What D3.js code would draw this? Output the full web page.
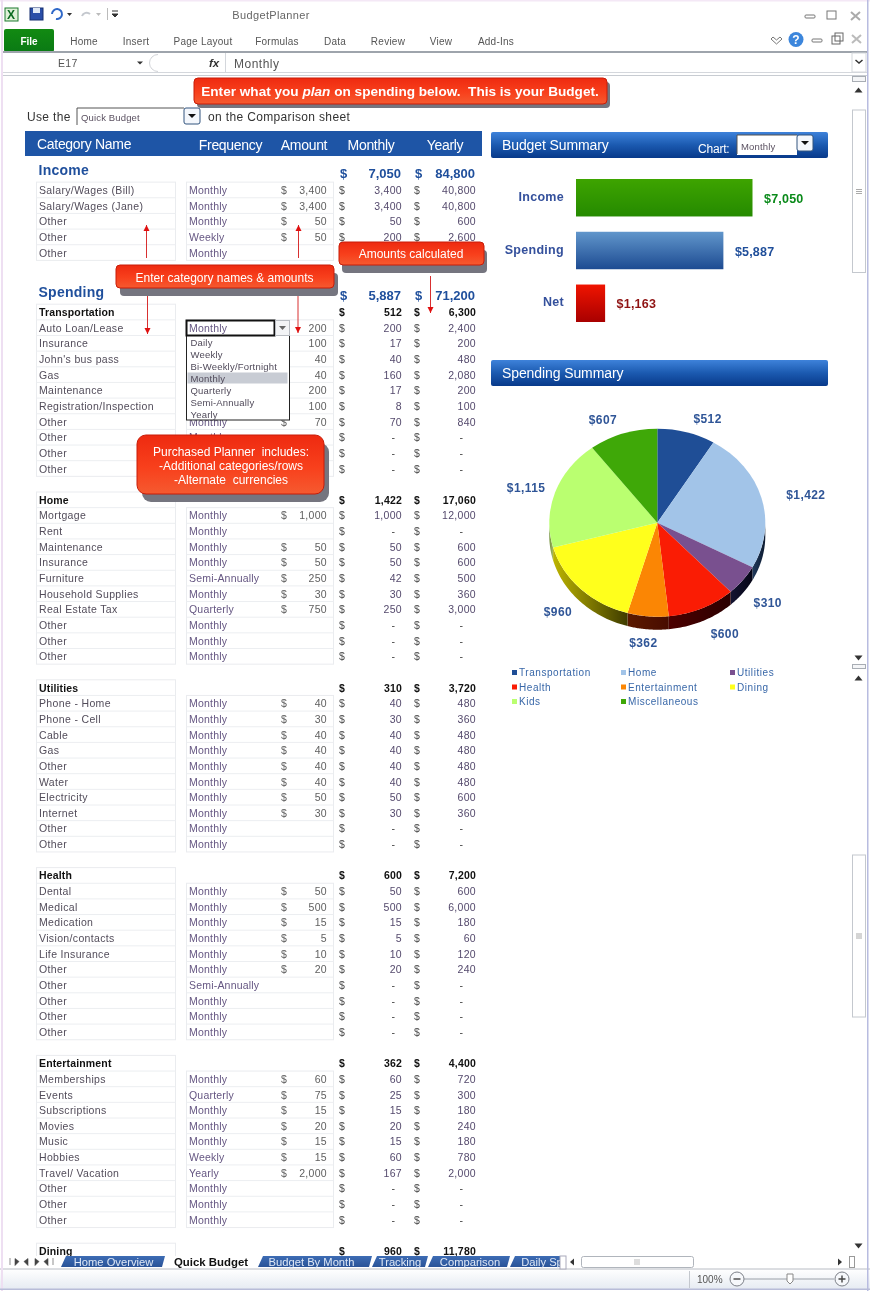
<!DOCTYPE html>
<html><head><meta charset="utf-8">
<script src="https://cdn.jsdelivr.net/npm/d3@7"></script>
<style>
html,body{margin:0;padding:0;background:#fff;overflow:hidden}
svg{display:block;filter:blur(0.35px)}
text{font-family:"Liberation Sans",Arial,sans-serif}
</style></head><body>
<div id="c"></div>
<script>
// ---------- data ----------
const pieCategories = ["Transportation","Home","Utilities","Health","Entertainment","Dining","Kids","Miscellaneous"];
const pieValues = [512,1422,310,600,362,960,1115,607];
const summaryLabels = ["Income","Spending","Net"];
const summaryValues = [7050,5887,1163];
const columnHeads = ["Frequency","Amount","Monthly","Yearly"];
const ribbonTabs = ["Home","Insert","Page Layout","Formulas","Data","Review","View","Add-Ins"];
const sheetTabs = ["Home  Overview","Quick Budget","Budget By Month","Tracking","Comparison","Daily Sp"];
const dropdownItems = ["Daily","Weekly","Bi-Weekly/Fortnight","Monthly","Quarterly","Semi-Annually","Yearly"];

const incomeTotals = [7050,84800];
const spendingTotals = [5887,71200];
const incomeRows = [
 ["Salary/Wages (Bill)","Monthly",3400,3400,40800],
 ["Salary/Wages (Jane)","Monthly",3400,3400,40800],
 ["Other","Monthly",50,50,600],
 ["Other","Weekly",50,200,2600],
 ["Other","Monthly",null,null,null]];
// "" = frequency cell hidden in the picture by the open dropdown or the callout
const transportationRows = [
 ["Auto Loan/Lease","",200,200,2400],
 ["Insurance","",100,17,200],
 ["John's bus pass","",40,40,480],
 ["Gas","",40,160,2080],
 ["Maintenance","",200,17,200],
 ["Registration/Inspection","",100,8,100],
 ["Other","Monthly",70,70,840],
 ["Other","Monthly",null,null,null],
 ["Other","",null,null,null],
 ["Other","",null,null,null]];
const homeRows = [
 ["Mortgage","Monthly",1000,1000,12000],
 ["Rent","Monthly",null,null,null],
 ["Maintenance","Monthly",50,50,600],
 ["Insurance","Monthly",50,50,600],
 ["Furniture","Semi-Annually",250,42,500],
 ["Household Supplies","Monthly",30,30,360],
 ["Real Estate Tax","Quarterly",750,250,3000],
 ["Other","Monthly",null,null,null],
 ["Other","Monthly",null,null,null],
 ["Other","Monthly",null,null,null]];
const utilitiesRows = [
 ["Phone - Home","Monthly",40,40,480],
 ["Phone - Cell","Monthly",30,30,360],
 ["Cable","Monthly",40,40,480],
 ["Gas","Monthly",40,40,480],
 ["Other","Monthly",40,40,480],
 ["Water","Monthly",40,40,480],
 ["Electricity","Monthly",50,50,600],
 ["Internet","Monthly",30,30,360],
 ["Other","Monthly",null,null,null],
 ["Other","Monthly",null,null,null]];
const healthRows = [
 ["Dental","Monthly",50,50,600],
 ["Medical","Monthly",500,500,6000],
 ["Medication","Monthly",15,15,180],
 ["Vision/contacts","Monthly",5,5,60],
 ["Life Insurance","Monthly",10,10,120],
 ["Other","Monthly",20,20,240],
 ["Other","Semi-Annually",null,null,null],
 ["Other","Monthly",null,null,null],
 ["Other","Monthly",null,null,null],
 ["Other","Monthly",null,null,null]];
const entertainmentRows = [
 ["Memberships","Monthly",60,60,720],
 ["Events","Quarterly",75,25,300],
 ["Subscriptions","Monthly",15,15,180],
 ["Movies","Monthly",20,20,240],
 ["Music","Monthly",15,15,180],
 ["Hobbies","Weekly",15,60,780],
 ["Travel/ Vacation","Yearly",2000,167,2000],
 ["Other","Monthly",null,null,null],
 ["Other","Monthly",null,null,null],
 ["Other","Monthly",null,null,null]];
const diningRows = [];
const sectionNames = ["Transportation","Home","Utilities","Health","Entertainment","Dining"];
const sectionMonthly = [512,1422,310,600,362,960];
const sectionYearly = [6300,17060,3720,7200,4400,11780];
const sectionRows = [transportationRows,homeRows,utilitiesRows,healthRows,entertainmentRows,diningRows];

// ---------- layout ----------
const W=870,H=1291;
const svg=d3.select("#c").append("svg").attr("width",W).attr("height",H).attr("viewBox",`0 0 ${W} ${H}`);
const defs=svg.append("defs");
function grad(id,stops,horizontal){
  const g=defs.append("linearGradient").attr("id",id).attr("x1",0).attr("y1",0)
    .attr("x2",horizontal?1:0).attr("y2",horizontal?0:1);
  stops.forEach(([o,c])=>g.append("stop").attr("offset",o).attr("stop-color",c));
}
grad("redCall",[[0,"#ee2a10"],[.55,"#f8401c"],[1,"#f55a30"]]);
grad("panel",[[0,"#3e82da"],[.5,"#1b5ab0"],[1,"#08398a"]]);
grad("fileTab",[[0,"#128a12"],[1,"#0a7a14"]]);
grad("barInc",[[0,"#3ea400"],[1,"#258a00"]]);
grad("barSpend",[[0,"#6196cb"],[1,"#1d4b92"]]);
grad("barNet",[[0,"#f01400"],[1,"#a80000"]]);
grad("status",[[0,"#ffffff"],[1,"#e6ebf2"]]);
grad("tabBlue",[[0,"#3d6cb4"],[1,"#2a5398"]]);
defs.append("clipPath").attr("id","sheet").append("rect").attr("x",0).attr("y",76).attr("width",850).attr("height",1180);

const txt=(g,x,y,s,o={})=>g.append("text").attr("x",x).attr("y",y).text(s)
  .attr("font-size",o.size||11).attr("fill",o.fill||"#444")
  .attr("font-weight",o.bold?"bold":null).attr("font-style",o.italic?"italic":null)
  .attr("text-anchor",o.anchor||"start").style("letter-spacing",o.ls==null?null:o.ls+"px");

svg.append("rect").attr("width",W).attr("height",H).attr("fill","#fff");

// ---------- sheet ----------
const sheet=svg.append("g").attr("clip-path","url(#sheet)");
const rowY=d3.scaleLinear().domain([0,1]).range([312,327.65]);
const fmt=d3.format(",");
const cols={name:39,freq:189,amtD:281,amt:327,monD:339,mon:402,yrD:414,yr:476,catL:36.5,catR:175.5,frL:186.5,frR:333.5};
const nameFill="#524c5a";
function drawBox(x0,x1,a,b){
  sheet.append("rect").attr("x",x0).attr("y",rowY(a)-7.8).attr("width",x1-x0).attr("height",rowY(b)-rowY(a))
    .attr("fill","none").attr("stroke","#eaecef");
  d3.range(a+1,b).forEach(i=>sheet.append("line").attr("x1",x0).attr("x2",x1)
    .attr("y1",rowY(i)-7.8).attr("y2",rowY(i)-7.8).attr("stroke","#eceef1"));
}
function drawRows(rows,start){
  rows.forEach((r,k)=>{
    const y=rowY(start+k)+4;
    txt(sheet,cols.name,y,r[0],{size:10.5,fill:nameFill,ls:.35});
    if(r[1]) txt(sheet,cols.freq,y,r[1],{size:10.5,fill:"#655682",ls:.2});
    if(r[2]!=null){
      if(r[1]) txt(sheet,cols.amtD,y,"$",{size:10.5,fill:"#606060"});
      txt(sheet,cols.amt,y,fmt(r[2]),{size:10.5,fill:"#606060",anchor:"end",ls:.3});
    }
    txt(sheet,cols.monD,y,"$",{size:10.5,fill:"#4c4c4c"});
    txt(sheet,cols.yrD,y,"$",{size:10.5,fill:"#4c4c4c"});
    if(r[3]!=null){
      txt(sheet,cols.mon,y,fmt(r[3]),{size:10.5,fill:"#54496c",anchor:"end",ls:.3});
      txt(sheet,cols.yr,y,fmt(r[4]),{size:10.5,fill:"#54496c",anchor:"end",ls:.3});
    }else{
      txt(sheet,cols.mon-7,y,"-",{size:10.5,fill:"#444",anchor:"end"});
      txt(sheet,cols.yr-13,y,"-",{size:10.5,fill:"#444",anchor:"end"});
    }
  });
}
// income
const incomeStart=-7.8;
drawBox(cols.catL,cols.catR,incomeStart,incomeStart+incomeRows.length);
drawBox(cols.frL,cols.frR,incomeStart,incomeStart+incomeRows.length);
drawRows(incomeRows,incomeStart);
function heading(name,totals,startY){
  txt(sheet,38.5,startY,name,{size:14,bold:true,fill:"#1f4f9c",ls:.25});
  const y=startY+3;
  txt(sheet,cols.monD+1,y,"$",{size:13,bold:true,fill:"#1f4f9c"});
  txt(sheet,cols.yrD+1,y,"$",{size:13,bold:true,fill:"#1f4f9c"});
  txt(sheet,cols.mon-1,y,fmt(totals[0]),{size:13,bold:true,fill:"#1f4f9c",anchor:"end"});
  txt(sheet,cols.yr-1,y,fmt(totals[1]),{size:13,bold:true,fill:"#1f4f9c",anchor:"end"});
}
heading("Income",incomeTotals,174.5);
heading("Spending",spendingTotals,297);
// sections
sectionNames.forEach((n,i)=>{
  const s=i*12, rows=sectionRows[i], y=rowY(s)+4;
  drawBox(cols.catL,cols.catR,s,s+1+rows.length);
  if(rows.length) drawBox(cols.frL,cols.frR,s+1,s+1+rows.length);
  txt(sheet,cols.name,y,n,{size:10.5,bold:true,fill:"#111",ls:.15});
  txt(sheet,cols.monD,y,"$",{size:10.5,bold:true,fill:"#111"});
  txt(sheet,cols.yrD,y,"$",{size:10.5,bold:true,fill:"#111"});
  txt(sheet,cols.mon,y,fmt(sectionMonthly[i]),{size:10.5,bold:true,fill:"#111",anchor:"end",ls:.2});
  txt(sheet,cols.yr,y,fmt(sectionYearly[i]),{size:10.5,bold:true,fill:"#111",anchor:"end",ls:.2});
  drawRows(rows,s+1);
});

// header bar
svg.append("rect").attr("x",25).attr("y",131).attr("width",457).attr("height",25).attr("fill","#1e55a6");
txt(svg,37,148.5,"Category Name",{size:14,fill:"#fff",ls:-.3});
[230.5,304,371,445].forEach((x,i)=>txt(svg,x,149.5,columnHeads[i],{size:14,fill:"#fff",anchor:"middle",ls:-.3}));

// use the ... row
txt(svg,27,121,"Use the",{size:12,fill:"#333",ls:.35});
txt(svg,208,121,"on the Comparison sheet",{size:12,fill:"#333",ls:.35});
function combo(x,y,w,h,label){
  svg.append("path").attr("d",`M${x},${y+h}V${y}H${x+w}`).attr("fill","none").attr("stroke","#555");
  txt(svg,x+4,y+h-4,label,{size:9.5,fill:"#5a5060",ls:.15});
  svg.append("rect").attr("x",x+w).attr("y",y).attr("width",16).attr("height",16).attr("rx",2)
    .attr("fill","#f4f7fc").attr("stroke","#33557f");
  svg.append("path").attr("d",`M${x+w+4},${y+6}h8l-4,4z`).attr("fill","#111");
}
combo(77,108,107,17,"Quick Budget");

// ---------- right panels ----------
function panel(y,label){
  svg.append("rect").attr("x",491).attr("y",y).attr("width",337).attr("height",26).attr("rx",2).attr("fill","url(#panel)");
  txt(svg,502,y+18,label,{size:14,fill:"#fff",ls:-.1});
}
panel(132,"Budget Summary");
panel(360,"Spending Summary");
txt(svg,698,153,"Chart:",{size:12,fill:"#fff",ls:-.2});
svg.append("rect").attr("x",737).attr("y",135).attr("width",60).attr("height",20).attr("fill","#fff");
combo(737,135,60,19,"Monthly");

// bars
const barX=d3.scaleLinear().domain([0,7050]).range([576,752.5]);
const barY=d3.scaleBand().domain(summaryLabels).range([179,322]).paddingInner(.29);
const barFill=["url(#barInc)","url(#barSpend)","url(#barNet)"];
const barText=["#0a8a1a","#1f4e9a","#8f1212"];
svg.selectAll(".b").data(summaryValues).join("rect").attr("class","b")
  .attr("x",barX(0)).attr("y",(d,i)=>barY(summaryLabels[i]))
  .attr("width",d=>barX(d)-barX(0)).attr("height",barY.bandwidth()).attr("fill",(d,i)=>barFill[i]);
summaryLabels.forEach((l,i)=>{
  const cy=barY(l)+barY.bandwidth()/2;
  txt(svg,564,cy+3,l,{size:12.5,bold:true,fill:"#34509c",anchor:"end",ls:.3});
  txt(svg,barX(summaryValues[i])+11.5,cy+5,"$"+fmt(summaryValues[i]),{size:12.5,bold:true,fill:barText[i],ls:.2});
});

// ---------- pie ----------
const pc={x:657.3,y:522.7,rx:108,ry:94,depth:13};
const pieColors=["#1f4e96","#a2c4e8","#79508f","#fa1c04","#fb8604","#ffff1c","#baff70","#3fa808"];
const wallLight=["#1f4e96","#203a5c","#141432","#4c0000","#5c1a00","#bdb400","#70903a","#3fa808"];
const wallDark=["#1f4e96","#0c1a30","#050516","#2c0000","#480c00","#3f3c00","#a6b864","#3fa808"];
pieColors.forEach((c,i)=>grad("wall"+i,[[0,wallLight[i]],[1,wallDark[i]]],true));
const arcs=d3.pie().sort(null).startAngle(0).endAngle(2*Math.PI)(pieValues);
const px=a=>pc.x+pc.rx*Math.sin(a), py=a=>pc.y-pc.ry*Math.cos(a);
const wallGroup=svg.append("g");
arcs.forEach((a,i)=>{
  const s=Math.max(a.startAngle,Math.PI/2), e=Math.min(a.endAngle,3*Math.PI/2);
  if(e<=s) return;
  const angles=d3.range(0,41).map(k=>s+(e-s)*k/40);
  const line=d3.line().x(d=>d[0]).y(d=>d[1]);
  const pts=[...angles.map(t=>[px(t),py(t)]),...angles.slice().reverse().map(t=>[px(t),py(t)+pc.depth])];
  wallGroup.append("path").attr("d",line(pts)+"Z").attr("fill",`url(#wall${i})`);
});
const arcGen=d3.arc().innerRadius(0).outerRadius(pc.rx);
svg.append("g").attr("transform",`translate(${pc.x},${pc.y}) scale(1,${pc.ry/pc.rx})`)
  .selectAll("path").data(arcs).join("path").attr("d",arcGen).attr("fill",(d,i)=>pieColors[i]);
const labelNudgeX=[16,26,10,15,-3,-9,-11,-14], labelNudgeY=[3,1,12,10,10,11,1,3];
arcs.forEach((a,i)=>{
  const m=(a.startAngle+a.endAngle)/2;
  txt(svg,pc.x+127*Math.sin(m)+labelNudgeX[i],pc.y-111*Math.cos(m)+labelNudgeY[i]+4,"$"+fmt(pieValues[i]),
    {size:12,bold:true,fill:"#2f5597",anchor:"middle",ls:.4});
});
// legend
const legX=d3.scalePoint().domain([0,1,2]).range([512,730]);
const legY=d3.scaleLinear().domain([0,1]).range([672.5,687]);
pieCategories.forEach((n,i)=>{
  const x=legX(i%3), y=legY(Math.floor(i/3));
  svg.append("rect").attr("x",x).attr("y",y-2.5).attr("width",5).attr("height",5).attr("fill",pieColors[i]);
  txt(svg,x+7,y+3.5,n,{size:10,fill:"#3867a8",ls:.55});
});

// ---------- callouts ----------
function callout(x,y,w,h,sx,sy,r){
  svg.append("rect").attr("x",x+sx).attr("y",y+sy).attr("width",w).attr("height",h).attr("rx",r).attr("fill","#75757f");
  svg.append("rect").attr("x",x).attr("y",y).attr("width",w).attr("height",h).attr("rx",r)
    .attr("fill","url(#redCall)").attr("stroke","#c81c08");
}
// arrows
function arrow(x,y0,y1){
  const dir=y1>y0?1:-1;
  svg.append("line").attr("x1",x).attr("x2",x).attr("y1",y0).attr("y2",y1).attr("stroke","#d83030").attr("stroke-width",1);
  svg.append("path").attr("d",`M${x-3},${y1-dir*6}h6L${x},${y1}z`).attr("fill","#e01010");
}
arrow(146.5,258,225); arrow(298.5,258,225);
arrow(147.5,292,334); arrow(298,292,333);
arrow(430.5,276,313);
callout(194,78,413,26,3,4,4);
const big=svg.append("text").attr("x",400).attr("y",95.5).attr("text-anchor","middle").attr("font-size",13.6).attr("font-weight","bold").attr("fill","#fff").style("white-space","pre");
big.append("tspan").text("Enter what you ");
big.append("tspan").attr("font-style","italic").text("plan");
big.append("tspan").text(" on spending below.  This is your Budget.");
callout(339,242,145,23,3,8,4);
txt(svg,411,258,"Amounts calculated",{size:12,fill:"#fff",anchor:"middle"});
callout(116,265,218,23,4,8,4);
txt(svg,224.5,281.5,"Enter category names & amounts",{size:12,fill:"#fff",anchor:"middle"});

// dropdown
svg.append("rect").attr("x",186.5).attr("y",335).attr("width",103).attr("height",85).attr("fill","#fff").attr("stroke","#222");
const ddY=d3.scaleLinear().domain([0,1]).range([342,354]);
svg.append("rect").attr("x",187.5).attr("y",ddY(3)-5.5).attr("width",100).attr("height",11).attr("fill","#c8ccd4");
dropdownItems.forEach((t,i)=>txt(svg,190.5,ddY(i)+3.5,t,{size:9.5,fill:"#504a5a",ls:.2}));
svg.append("rect").attr("x",186.5).attr("y",320.5).attr("width",88).attr("height",15).attr("fill","#fff").attr("stroke","#111").attr("stroke-width",2);
txt(svg,189,332,"Monthly",{size:10.5,fill:"#655682",ls:.2});
svg.append("rect").attr("x",275.5).attr("y",320.5).attr("width",14).attr("height",15).attr("fill","#f3f4f6").attr("stroke","#b8bcc2");
svg.append("path").attr("d","M279,326h7l-3.5,4z").attr("fill","#666");

callout(137,435,187,59,5,8,9);
["Purchased Planner  includes:","-Additional categories/rows","-Alternate  currencies"].forEach((t,i)=>
  txt(svg,231,456+i*13.8,t,{size:12,fill:"#fff",anchor:"middle"}).style("white-space","pre"));

// ---------- ribbon chrome ----------
const ribbon=svg.append("g");
ribbon.append("rect").attr("width",W).attr("height",76).attr("fill","#fff");
ribbon.append("rect").attr("width",W).attr("height",1.5).attr("fill","#f4e8f6");
txt(ribbon,271,19,"BudgetPlanner",{size:11,fill:"#666",anchor:"middle",ls:.35});
// quick access icons
ribbon.append("rect").attr("x",5).attr("y",8).attr("width",13).attr("height",13).attr("fill","#dff0d8").attr("stroke","#1d7a2e");
txt(ribbon,7,19,"X",{size:12,bold:true,fill:"#0a6a20"});
ribbon.append("rect").attr("x",30).attr("y",8).attr("width",13).attr("height",12).attr("fill","#2a4ea8").attr("stroke","#162e70");
ribbon.append("rect").attr("x",33).attr("y",8).attr("width",7).attr("height",5).attr("fill","#dfe8f6");
ribbon.append("path").attr("d","M52,14a5,5 0 1 1 4,5").attr("fill","none").attr("stroke","#2f68c8").attr("stroke-width",2);
ribbon.append("path").attr("d","M67,13h5l-2.5,3z").attr("fill","#333");
ribbon.append("path").attr("d","M90,14a5,5 0 0 0 -8,2").attr("fill","none").attr("stroke","#c4c8ce").attr("stroke-width",2);
ribbon.append("path").attr("d","M96,13h5l-2.5,3z").attr("fill","#bbb");
ribbon.append("line").attr("x1",107.5).attr("x2",107.5).attr("y1",8).attr("y2",20).attr("stroke","#bbb");
ribbon.append("path").attr("d","M112,11h6M112,14h6l-3,3z").attr("stroke","#333").attr("fill","#333");
// window buttons
ribbon.append("rect").attr("x",805).attr("y",15).attr("width",10).attr("height",3).attr("rx",1).attr("fill","#fff").attr("stroke","#777");
ribbon.append("rect").attr("x",827).attr("y",11).attr("width",9).attr("height",8).attr("fill","#fff").attr("stroke","#777");
ribbon.append("path").attr("d","M851,12l9,8M860,12l-9,8").attr("stroke","#aaa").attr("stroke-width",2);
// tabs
ribbon.append("rect").attr("x",4).attr("y",29).attr("width",50).attr("height",23).attr("rx",2).attr("fill","url(#fileTab)");
txt(ribbon,29,45,"File",{size:10,bold:true,fill:"#fff",anchor:"middle"});
[84,136,203,277,335,388,441,496].forEach((x,i)=>txt(ribbon,x,44.5,ribbonTabs[i],{size:10,fill:"#555",anchor:"middle",ls:.25}));
ribbon.append("path").attr("d","M773,37l3.5,3 3.5,-3 2,2 -5.5,5 -5.5,-5z").attr("fill","#fff").attr("stroke","#777");
ribbon.append("circle").attr("cx",796).attr("cy",39.5).attr("r",7.5).attr("fill","#3c86dc");
txt(ribbon,796,44,"?",{size:12,bold:true,fill:"#fff",anchor:"middle"});
ribbon.append("rect").attr("x",812).attr("y",39).attr("width",10).attr("height",3).attr("rx",1).attr("fill","#fff").attr("stroke","#777");
ribbon.append("rect").attr("x",832).attr("y",36).attr("width",8).attr("height",8).attr("fill","#fff").attr("stroke","#666");
ribbon.append("rect").attr("x",835).attr("y",33).attr("width",8).attr("height",8).attr("fill","none").attr("stroke","#666");
ribbon.append("path").attr("d","M852,35l9,8M861,35l-9,8").attr("stroke","#bbb").attr("stroke-width",2);
// formula bar
ribbon.append("rect").attr("x",3).attr("y",51).attr("width",864).attr("height",2).attr("fill","#9ea4ac");
ribbon.append("rect").attr("x",3).attr("y",72).attr("width",864).attr("height",1).attr("fill","#d4d7dc");
ribbon.append("rect").attr("x",3).attr("y",75).attr("width",864).attr("height",1).attr("fill","#c8ccd2");
txt(ribbon,58,67,"E17",{size:10.5,fill:"#555",ls:.3});
ribbon.append("path").attr("d","M137,61.5h6l-3,3z").attr("fill","#333");
ribbon.append("circle").attr("cx",158).attr("cy",63).attr("r",8.5).attr("fill","#fff").attr("stroke","#d2d4d8");
ribbon.append("rect").attr("x",158).attr("y",54).attr("width",20).attr("height",18).attr("fill","#fff");
txt(ribbon,214,67,"fx",{size:11.5,bold:true,italic:true,fill:"#333",anchor:"middle"});
ribbon.append("line").attr("x1",225.5).attr("x2",225.5).attr("y1",53).attr("y2",72).attr("stroke","#d4d7dc");
txt(ribbon,234,67.5,"Monthly",{size:12,fill:"#555",ls:.5});
ribbon.append("rect").attr("x",852).attr("y",53).attr("width",14).attr("height",19).attr("fill","#fff").attr("stroke","#d4d7dc");
ribbon.append("path").attr("d","M855.5,60l3.5,3 3.5,-3").attr("fill","none").attr("stroke","#333").attr("stroke-width",1.5);

// ---------- vertical scrollbars ----------
const vs=svg.append("g");
vs.append("rect").attr("x",851).attr("y",76).attr("width",16).attr("height",1180).attr("fill","#fff");
vs.append("rect").attr("x",852.5).attr("y",76.5).attr("width",13).attr("height",5).attr("fill","#f4f5f7").attr("stroke","#a8adb4");
const tri=(x,y,up,c="#333")=>vs.append("path").attr("d",up?`M${x-4},${y+2.5}h8l-4,-5z`:`M${x-4},${y-2.5}h8l-4,5z`).attr("fill",c);
tri(858.5,90,true);
vs.append("rect").attr("x",852.5).attr("y",110).attr("width",13).attr("height",162.5).attr("fill","#fff").attr("stroke","#c4c8ce");
vs.append("path").attr("d","M856,189.5h6M856,191.5h6M856,193.5h6").attr("stroke","#aaa");
tri(858.5,658,false);
vs.append("rect").attr("x",852.5).attr("y",664.5).attr("width",13).attr("height",4).attr("fill","#f4f5f7").attr("stroke","#a8adb4");
tri(858.5,678,true);
vs.append("rect").attr("x",852.5).attr("y",855).attr("width",13).attr("height",162).attr("fill","#fff").attr("stroke","#c4c8ce");
vs.append("path").attr("d","M856,934h6M856,936h6M856,938h6").attr("stroke","#aaa");
tri(858.5,1246,false);

// ---------- bottom tabs & status ----------
const bot=svg.append("g");
bot.append("rect").attr("x",0).attr("y",1256).attr("width",W).attr("height",13).attr("fill","#fff");
bot.append("rect").attr("x",0).attr("y",1269).attr("width",W).attr("height",20).attr("fill","url(#status)");
bot.append("line").attr("x1",0).attr("x2",W).attr("y1",1269).attr("y2",1269).attr("stroke","#b8bcc4");
["M10,1258v7M19,1261.5l-4,-3v7zM24,1261.5l4,-3v7z","M39,1261.5l-4,-3v7zM44,1261.5l4,-3v7zM53,1258v7"].forEach(d=>
  bot.append("path").attr("d",d).attr("fill","#444").attr("stroke","#444").attr("stroke-width",.6));
const tabX=[[61,165],[165,258],[258,372],[372,428],[428,510],[510,565]];
const tabTextX=[113.5,211,311.5,400,470,542];
tabX.forEach(([a,b],i)=>{
  if(i===1) return;
  bot.append("path").attr("d",`M${a},1267L${a+5},1256H${b}L${b-3},1267Z`).attr("fill","url(#tabBlue)");
});
sheetTabs.forEach((t,i)=>txt(bot,tabTextX[i],1266,t,i===1?{size:11.4,bold:true,fill:"#111",anchor:"middle"}:{size:11.2,fill:"#dfe8f6",anchor:"middle"}));
bot.append("rect").attr("x",560).attr("y",1256).attr("width",6).attr("height",13).attr("fill","#fff").attr("stroke","#aab");
bot.append("path").attr("d","M570,1262l4,-3.5v7z").attr("fill","#333");
bot.append("rect").attr("x",581.5).attr("y",1256.5).attr("width",112).attr("height",11).attr("rx",2).attr("fill","#fff").attr("stroke","#b0b5bc");
bot.append("path").attr("d","M635,1259v6M637,1259v6M639,1259v6").attr("stroke","#bbb");
bot.append("path").attr("d","M842,1262l-4,-3.5v7z").attr("fill","#333");
bot.append("rect").attr("x",849.5).attr("y",1256.5).attr("width",5).attr("height",11).attr("fill","#fff").attr("stroke","#999");
bot.append("line").attr("x1",689.5).attr("x2",689.5).attr("y1",1271).attr("y2",1288).attr("stroke","#c4c8ce");
txt(bot,697,1283,"100%",{size:10,fill:"#555"});
bot.append("line").attr("x1",744).attr("x2",834).attr("y1",1279).attr("y2",1279).attr("stroke","#9aa0a8");
bot.append("circle").attr("cx",737).attr("cy",1279).attr("r",7).attr("fill","#f6f8fb").attr("stroke","#7c8088");
bot.append("path").attr("d","M733.5,1279h7").attr("stroke","#444").attr("stroke-width",1.4);
bot.append("circle").attr("cx",842).attr("cy",1279).attr("r",7).attr("fill","#f6f8fb").attr("stroke","#7c8088");
bot.append("path").attr("d","M838.5,1279h7M842,1275.5v7").attr("stroke","#444").attr("stroke-width",1.4);
bot.append("path").attr("d","M787,1274h6v7l-3,3l-3,-3z").attr("fill","#fff").attr("stroke","#888");

// window frame
svg.append("rect").attr("x",1).attr("y",0).attr("width",2).attr("height",H).attr("fill","#eedff2");
svg.append("rect").attr("x",867).attr("y",0).attr("width",1.5).attr("height",H).attr("fill","#b8bce0");
svg.append("rect").attr("x",0).attr("y",1288.5).attr("width",W).attr("height",1.5).attr("fill","#b8bcd8");
</script>
</body></html>
